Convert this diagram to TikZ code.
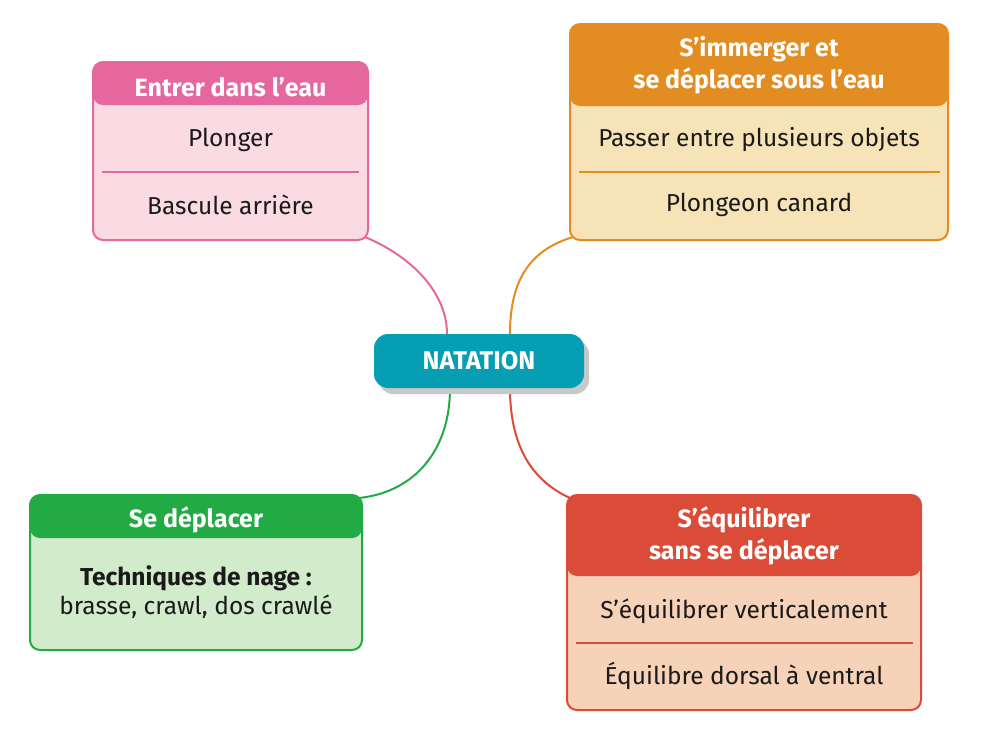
\documentclass[tikz,border=0pt]{standalone}
\usepackage{fontspec}
\setmainfont{Fira Sans}
\usetikzlibrary{positioning,calc,backgrounds,shadows}

\definecolor{roseH}{HTML}{E5679D}
\definecolor{roseB}{HTML}{FADBE3}
\definecolor{orangeH}{HTML}{E38C22}
\definecolor{orangeB}{HTML}{F6E4B8}
\definecolor{vertH}{HTML}{22AA44}
\definecolor{vertB}{HTML}{D1EBCB}
\definecolor{rougeH}{HTML}{DA4C37}
\definecolor{rougeB}{HTML}{F6D2B8}
\definecolor{natB}{HTML}{069EB3}
\definecolor{ombre}{HTML}{C8C8C8}
\definecolor{texte}{HTML}{1A1A1A}

\begin{document}
\begin{tikzpicture}[x=1pt, y=-1pt,
    boite/.style args={#1/#2}{draw=#1H, fill=#1B, line width=2pt, rounded corners=10pt,
        path picture={\fill[#1H] (path picture bounding box.north west) rectangle ([yshift=-#2pt]path picture bounding box.north east);}},
    titre/.style={font=\bfseries\fontsize{25}{32}\selectfont, text=white, align=center, inner sep=0pt},
    item/.style={font=\fontsize{24.5}{29}\selectfont, text=texte, align=center, inner sep=0pt},
    sep/.style={line width=1.5pt},
    lien/.style={line width=2pt, #1H}
]
\useasboundingbox (0,0) rectangle (987,740);

% centre
\node[fill=natB, rounded corners=14pt, minimum width=210pt, minimum height=54pt,
      drop shadow={shadow xshift=5pt, shadow yshift=-6pt, fill=ombre, opacity=1},
      font=\bfseries\fontsize{25.5}{30}\selectfont, text=white] (nat) at (479,361) {NATATION};

% branches
\node[boite=rose/43, minimum width=275pt, minimum height=178pt] (entrer) at (230.5,151) {};
\node[titre] (entrerT) at (230.5,87) {Entrer dans l’eau};
\node[item] (plonger) at (230.5,140) {Plonger};
\node[item] (bascule) at (230.5,205) {Bascule arrière};
\draw[sep, roseH] (102,172) -- (359,172);

\node[boite=orange/82, minimum width=378pt, minimum height=216pt] (immerger) at (759,132) {};
\node[titre] (immergerT) at (759,65) {S’immerger et\\se déplacer sous l’eau};
\node[item] (passer) at (759,140) {Passer entre plusieurs objets};
\node[item] (canard) at (759,205) {Plongeon canard};
\draw[sep, orangeH] (579,172) -- (940,172);

\node[boite=vert/43, minimum width=332pt, minimum height=155pt] (deplacer) at (196,572.5) {};
\node[titre] (deplacerT) at (196,520) {Se déplacer};
\node[item] (nage) at (196,592.5) {\textbf{Techniques de nage :}\\brasse, crawl, dos crawlé};

\node[boite=rouge/81, minimum width=354pt, minimum height=215pt] (equil) at (744,602.5) {};
\node[titre] (equilT) at (744,536) {S’équilibrer\\sans se déplacer};
\node[item] (vertical) at (744,611) {S’équilibrer verticalement};
\node[item] (dorsal) at (744,676) {Équilibre dorsal à ventral};
\draw[sep, rougeH] (576,643) -- (913,643);

% liens
\begin{scope}[on background layer]
\draw[lien=rose] ([xshift=-4pt,yshift=4pt]entrer.south east) .. controls (415,258) and (447,295) .. ([xshift=-32pt]nat.north);
\draw[lien=orange] ([xshift=31pt]nat.north) .. controls (510,280) and (530,250) .. ([xshift=4pt,yshift=4pt]immerger.south west);
\draw[lien=vert] ([xshift=-29pt]nat.south) .. controls (450,450) and (415,492) .. ([xshift=-4pt,yshift=-4pt]deplacer.north east);
\draw[lien=rouge] ([xshift=31pt]nat.south) .. controls (510,450) and (535,482) .. ([xshift=4pt,yshift=-4pt]equil.north west);
\end{scope}
\end{tikzpicture}
\end{document}
